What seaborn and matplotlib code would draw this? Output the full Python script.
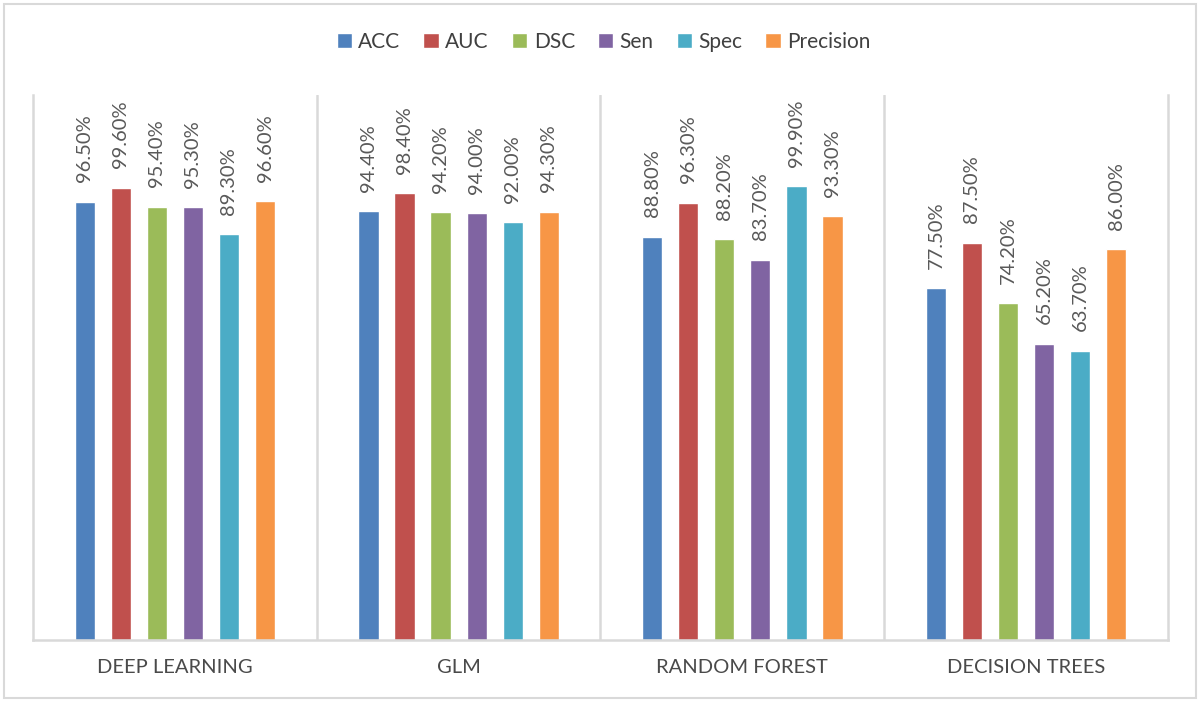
import matplotlib
matplotlib.use("Agg")
import matplotlib.pyplot as plt
from matplotlib.patches import Rectangle
import seaborn as sns
import pandas as pd

# data (percent)
models = ["DEEP LEARNING", "GLM", "RANDOM FOREST", "DECISION TREES"]
metrics = ["ACC", "AUC", "DSC", "Sen", "Spec", "Precision"]
acc = [96.5, 94.4, 88.8, 77.5]
auc = [99.6, 98.4, 96.3, 87.5]
dsc = [95.4, 94.2, 88.2, 74.2]
sen = [95.3, 94.0, 83.7, 65.2]
spec = [89.3, 92.0, 99.9, 63.7]
precision = [96.6, 94.3, 93.3, 86.0]
colors = ["#4F81BD", "#C0504D", "#9BBB59", "#8064A2", "#4BACC6", "#F79646"]

rows = []
for name, vals in zip(metrics, [acc, auc, dsc, sen, spec, precision]):
    for m, v in zip(models, vals):
        rows.append({"model": m, "metric": name, "value": v})
df = pd.DataFrame(rows)

sns.set_style("white")
plt.rcParams["font.family"] = ["Lato", "DejaVu Sans"]
grey = "#595959"
line = "#d9d9d9"

fig = plt.figure(figsize=(12, 7.01), dpi=100)
ax = fig.add_axes([0.0275, 0.087, 0.9458, 0.7775])

sns.barplot(data=df, x="model", y="value", hue="metric", hue_order=metrics,
            palette=colors, saturation=1, width=0.763, gap=0.44,
            errorbar=None, ax=ax)

for c in ax.containers:
    ax.bar_label(c, labels=[f"{v:.2f}%" for v in c.datavalues],
                 rotation=90, padding=14, color=grey, fontsize=14.5)

ax.set_ylim(0, 120)
ax.set_xlim(-0.5, 3.5)
ax.set_yticks([])
ax.set_xlabel("")
ax.set_ylabel("")
ax.tick_params(axis="x", length=0, pad=14, labelsize=14.5, labelcolor="#4a4a4a")
for s in ["left", "right", "bottom"]:
    ax.spines[s].set_color(line)
    ax.spines[s].set_linewidth(1.8)
ax.spines["top"].set_visible(False)
for xb in [0.5, 1.5, 2.5]:
    ax.axvline(xb, color=line, lw=1.8, zorder=0)

handles, labels = ax.get_legend_handles_labels()
ax.legend_.remove()
fig.legend(handles, labels, loc="center", bbox_to_anchor=(0.503, 0.94), ncol=6,
           frameon=False, fontsize=15, handlelength=0.75, handleheight=0.75,
           handletextpad=0.3, columnspacing=1.1, labelcolor="#404040")

fig.patches.append(Rectangle((0.003, 0.004), 0.994, 0.99, transform=fig.transFigure,
                             fill=False, edgecolor=line, lw=1.5))

fig.savefig("out.png", dpi=100)
